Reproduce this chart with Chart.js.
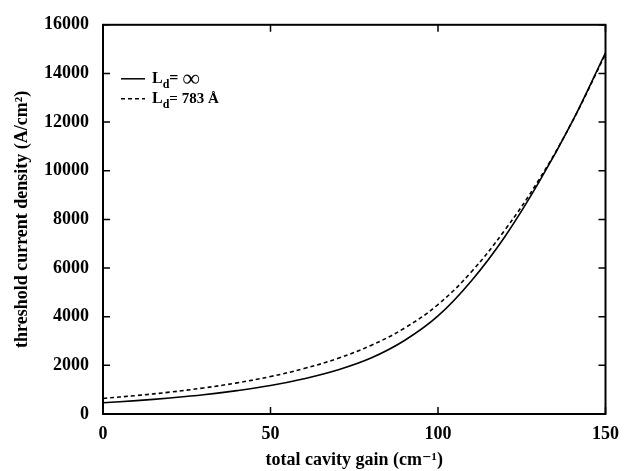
<!DOCTYPE html>
<html>
<head>
<meta charset="utf-8">
<script src="https://cdn.jsdelivr.net/npm/chart.js@4/dist/chart.umd.min.js"></script>
<style>
  html, body { margin: 0; padding: 0; background: #fff; }
  #wrap { width: 629px; height: 471px; }
</style>
</head>
<body>
<div id="wrap"><canvas id="chart"></canvas></div>
<script>
const gain = [0, 10, 20, 30, 40, 50, 60, 70, 80, 90, 100, 110, 120, 130, 140, 150];
const jInfinite = [460, 550, 660, 790, 960, 1170, 1450, 1810, 2300, 3020, 4030, 5480, 7300, 9500, 12000, 14850];
const j783 = [640, 760, 900, 1070, 1280, 1540, 1870, 2280, 2820, 3530, 4500, 5850, 7570, 9600, 12000, 14800];
const xTicks = [0, 50, 100, 150];
const yTicks = [0, 2000, 4000, 6000, 8000, 10000, 12000, 14000, 16000];
const legendMain = ['L', 'L'];
const legendSub = ['d', 'd'];
const legendRest = ['= \u221E', '= 783 \u00C5'];

const serif = "'Liberation Serif', 'DejaVu Serif', serif";

// full box with inward ticks, plus legend with subscripts
const frame = {
    id: 'frame',
    afterDraw(chart) {
        const ctx = chart.ctx;
        const a = chart.chartArea;
        const xs = chart.scales.x, ys = chart.scales.y;
        ctx.save();
        ctx.strokeStyle = '#000';
        ctx.lineWidth = 2;
        ctx.strokeRect(a.left, a.top, a.right - a.left, a.bottom - a.top);
        ctx.lineWidth = 1.5;
        ctx.beginPath();
        xTicks.forEach(v => {
            const px = xs.getPixelForValue(v);
            ctx.moveTo(px, a.bottom); ctx.lineTo(px, a.bottom - 7);
            ctx.moveTo(px, a.top); ctx.lineTo(px, a.top + 7);
        });
        yTicks.forEach(v => {
            const py = ys.getPixelForValue(v);
            ctx.moveTo(a.left, py); ctx.lineTo(a.left + 7, py);
            ctx.moveTo(a.right, py); ctx.lineTo(a.right - 7, py);
        });
        ctx.stroke();

        // legend
        const lx = a.left + 18, ly = a.top + 54;
        chart.data.datasets.forEach((ds, i) => {
            const y = ly + i * 20;
            ctx.beginPath();
            ctx.setLineDash(ds.borderDash || []);
            ctx.lineWidth = 1.5;
            ctx.moveTo(lx, y); ctx.lineTo(lx + 24, y);
            ctx.stroke();
            ctx.setLineDash([]);
            ctx.fillStyle = '#000';
            ctx.textBaseline = 'middle';
            ctx.font = 'bold 16px ' + serif;
            let tx = lx + 31;
            ctx.fillText(legendMain[i], tx, y);
            tx += ctx.measureText(legendMain[i]).width;
            ctx.font = 'bold 12px ' + serif;
            ctx.fillText(legendSub[i], tx, y + 6);
            tx += ctx.measureText(legendSub[i]).width;
            if (i === 0) {
                ctx.font = 'bold 16px ' + serif;
                ctx.fillText('= ', tx, y);
                tx += ctx.measureText('= ').width;
                ctx.font = 'bold 24px ' + serif;
                ctx.fillText('\u221E', tx, y + 1);
            } else {
                ctx.font = 'bold 15px ' + serif;
                ctx.fillText(legendRest[i], tx, y);
            }
        });
        ctx.restore();
    }
};

new Chart(document.getElementById('chart'), {
    type: 'line',
    data: {
        labels: gain,
        datasets: [{
            label: 'Ld = inf',
            data: gain.map((g, i) => ({ x: g, y: jInfinite[i] })),
            borderColor: '#000',
            borderWidth: 1.6,
            pointRadius: 0,
            tension: 0.4
        }, {
            label: 'Ld = 783 A',
            data: gain.map((g, i) => ({ x: g, y: j783[i] })),
            borderColor: '#000',
            borderWidth: 1.6,
            borderDash: [4, 3],
            pointRadius: 0,
            tension: 0.4
        }]
    },
    options: {
        responsive: true,
        maintainAspectRatio: false,
        animation: false,
        layout: { padding: { top: 15, right: 22, left: 0, bottom: 0 } },
        plugins: { legend: { display: false }, tooltip: { enabled: false } },
        scales: {
            x: {
                type: 'linear',
                min: 0, max: 150,
                afterBuildTicks: s => { s.ticks = xTicks.map(v => ({ value: v })); },
                afterFit: s => { s.height = 57; },
                grid: { display: false, drawTicks: false },
                border: { display: false },
                ticks: {
                    color: '#000', padding: 10,
                    callback: v => String(v),
                    font: { family: serif, size: 18, weight: 'bold' }
                },
                title: {
                    display: true,
                    text: 'total cavity gain (cm\u207B\u00B9)',
                    color: '#000',
                    padding: { top: 0, bottom: 0 },
                    font: { family: serif, size: 18, weight: 'bold' }
                }
            },
            y: {
                min: 0, max: 16000,
                afterBuildTicks: s => { s.ticks = yTicks.map(v => ({ value: v })); },
                afterFit: s => { s.width = 103; },
                grid: { display: false, drawTicks: false },
                border: { display: false },
                ticks: {
                    color: '#000', padding: 14,
                    callback: v => String(v),
                    font: { family: serif, size: 18, weight: 'bold' }
                },
                title: {
                    display: true,
                    text: 'threshold current density (A/cm\u00B2)',
                    color: '#000',
                    padding: { top: 12, bottom: 0 },
                    font: { family: serif, size: 18, weight: 'bold' }
                }
            }
        }
    },
    plugins: [frame]
});
</script>
</body>
</html>
